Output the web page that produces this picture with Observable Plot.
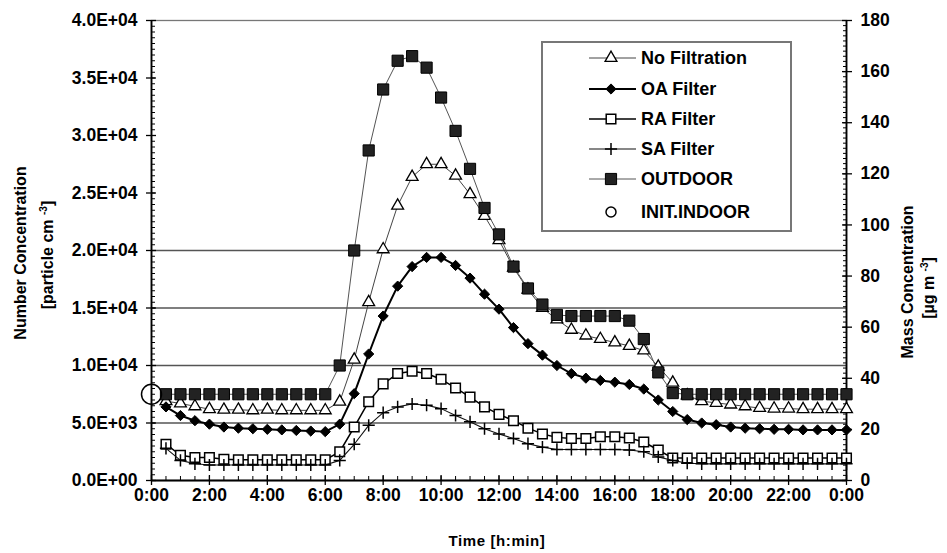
<!DOCTYPE html>
<html><head><meta charset="utf-8">
<script src="https://cdn.jsdelivr.net/npm/d3@7"></script>
<script src="https://cdn.jsdelivr.net/npm/@observablehq/plot@0.6"></script>
<style>
body{margin:0;background:#fff;}
#wrap{position:relative;width:947px;height:553px;overflow:hidden;font-family:"Liberation Sans",Arial,sans-serif;font-weight:bold;color:#000;background:#fff;}
#chart{position:absolute;left:0;top:0;}
.ttl{position:absolute;white-space:nowrap;font-size:16px;line-height:1;}
.rot{transform:translate(-50%,-50%) rotate(-90deg);}
.hor{transform:translate(-50%,-50%);}
sup{font-size:10px;vertical-align:6px;line-height:0;}
#legend{position:absolute;left:541px;top:41px;width:247px;height:187px;border:2px solid #777;background:#fff;}
</style></head><body>
<div id="wrap"><div id="chart"></div></div>
<script>
// ---------- data ----------
const hours = [0.5,1,1.5,2,2.5,3,3.5,4,4.5,5,5.5,6,6.5,7,7.5,8,8.5,9,9.5,10,10.5,11,11.5,12,
  12.5,13,13.5,14,14.5,15,15.5,16,16.5,17,17.5,18,18.5,19,19.5,20,20.5,21,21.5,22,22.5,23,23.5,24];
const noFiltration = [6900,6700,6450,6200,6150,6150,6100,6150,6100,6100,6100,6100,
  6850,10500,15500,20100,23900,26400,27500,27500,26500,24900,23000,20900,18500,16600,15000,14000,
  13100,12600,12300,12000,11700,11300,9900,8500,
  7400,6900,6750,6600,6450,6300,6250,6250,6200,6200,6200,6200];
const oaFilter = [6400,5650,5200,4900,4650,4550,4500,4450,4400,4350,4300,4250,
  4900,7550,11000,14300,16900,18600,19400,19400,18700,17600,16200,14900,13300,11900,10900,10000,
  9300,8900,8700,8550,8350,7950,7000,6000,
  5300,5000,4850,4650,4550,4500,4450,4450,4400,4400,4400,4400];
const raFilter = [3150,2200,2000,2000,1850,1800,1800,1800,1800,1800,1800,1800,
  2500,4650,6850,8400,9300,9500,9300,8800,8050,7250,6400,5750,5200,4550,4050,3750,
  3650,3650,3800,3800,3700,3350,2650,1950,
  1950,1950,1950,1950,1950,1950,1950,1950,1950,1950,1950,1950];
const saFilter = [2800,1750,1450,1350,1350,1350,1350,1350,1350,1350,1350,1350,
  1750,3150,4800,5900,6400,6650,6550,6250,5650,5100,4500,4050,3650,3200,2900,2700,
  2700,2700,2700,2700,2650,2500,2050,1750,
  1500,1450,1450,1450,1450,1450,1450,1450,1450,1450,1450,1450];
const outdoor = [7500,7500,7500,7500,7500,7500,7500,7500,7500,7500,7500,7500,
  10000,20000,28700,34000,36500,36900,35900,33300,30400,27100,23700,21400,18600,16700,15300,14400,
  14300,14300,14300,14300,13900,12300,9400,7600,
  7500,7500,7500,7500,7500,7500,7500,7500,7500,7500,7500,7500];
const initIndoorTime = [0];
const initIndoor = [7500];

const timeTickValues = [0,2,4,6,8,10,12,14,16,18,20,22,24];
const timeTickLabels = ["0:00","2:00","4:00","6:00","8:00","10:00","12:00","14:00","16:00","18:00","20:00","22:00","0:00"];
const numTickValues = [0,5000,10000,15000,20000,25000,30000,35000,40000];
const numTickLabels = ["0.0E+00","5.0E+03","1.0E+04","1.5E+04","2.0E+04","2.5E+04","3.0E+04","3.5E+04","4.0E+04"];
const massTickLabels = [0,20,40,60,80,100,120,140,160,180];
const gridValues = [5000,10000,15000,20000];

const numMax = 40000, massMax = 180;
const massToNum = v => v * numMax / massMax;

// ---------- styles ----------
const series = [
  {name:"No Filtration", values:noFiltration, line:{stroke:"#444",strokeWidth:1}, sym:{symbol:"triangle",r:4.4,fill:"#fff",stroke:"#000",strokeWidth:1.3}},
  {name:"OA Filter", values:oaFilter, line:{stroke:"#000",strokeWidth:2}, sym:{symbol:"diamond2",r:4.6,fill:"#000",stroke:"#000",strokeWidth:1}},
  {name:"RA Filter", values:raFilter, line:{stroke:"#000",strokeWidth:1.5}, sym:{symbol:"square",r:5.4,fill:"#fff",stroke:"#000",strokeWidth:1.5}},
  {name:"SA Filter", values:saFilter, line:{stroke:"#111",strokeWidth:1.1}, sym:{symbol:"plus",r:4,fill:"none",stroke:"#000",strokeWidth:1.5}},
  {name:"OUTDOOR", values:outdoor, line:{stroke:"#555",strokeWidth:1}, sym:{symbol:"square",r:6.3,fill:"#222",stroke:"#000",strokeWidth:1}}
];
const initStyle = {name:"INIT.INDOOR", sym:{symbol:"circle",r:10,fill:"none",stroke:"#000",strokeWidth:1.5}};

const rows = vals => hours.map((t,i) => ({t, v: vals[i]}));

const minorX = d3.range(0, 24.01, 0.5);
const minorY = d3.range(0, 40001, 500);
const minorMass = d3.range(0, 180.01, 2).map(massToNum);

const seriesMarks = series.flatMap(s => [
  Plot.line(rows(s.values), {x:"t", y:"v", ...s.line}),
  Plot.dot(rows(s.values), {x:"t", y:"v", ...s.sym})
]);

const plot = Plot.plot({
  width: 947, height: 553,
  marginLeft: 151, marginRight: 101, marginTop: 20, marginBottom: 73,
  x: {domain: [0, 24]},
  y: {domain: [0, numMax]},
  style: {fontFamily: '"Liberation Sans", Arial, sans-serif', fontSize: "17.5px", fontWeight: "bold", color: "#000", background: "transparent", overflow: "visible"},
  marks: [
    Plot.ruleY(gridValues, {stroke: "#555", strokeWidth: 1.3}),
    Plot.frame({stroke: "#777", strokeWidth: 1.3}),
    // x axis
    Plot.axisX({ticks: minorX, tickSize: -4, tickFormat: () => "", label: null, strokeWidth: 1}),
    Plot.axisX({ticks: timeTickValues, tickSize: -5, tickFormat: () => "", label: null, strokeWidth: 1.3}),
    Plot.axisX({ticks: timeTickValues, tickSize: 5, tickPadding: 3, strokeWidth: 1.3,
      tickFormat: d => timeTickLabels[timeTickValues.indexOf(d)], label: null}),
    // left y axis
    Plot.axisY({ticks: minorY, tickSize: -4, tickFormat: () => "", label: null}),
    Plot.axisY({ticks: numTickValues, tickSize: -5, tickFormat: () => "", label: null, strokeWidth: 1.3}),
    Plot.axisY({ticks: numTickValues, tickSize: 5, tickPadding: 9, strokeWidth: 1.3,
      tickFormat: d => numTickLabels[numTickValues.indexOf(d)], label: null}),
    // right y axis (mass concentration)
    Plot.axisY({anchor: "right", ticks: minorMass, tickSize: -4, tickFormat: () => "", label: null}),
    Plot.axisY({anchor: "right", ticks: massTickLabels.map(massToNum), tickSize: -5, tickFormat: () => "", label: null, strokeWidth: 1.3}),
    Plot.axisY({anchor: "right", ticks: massTickLabels.map(massToNum), tickSize: 5, tickPadding: 9, strokeWidth: 1.3,
      tickFormat: d => String(Math.round(d * massMax / numMax)), label: null}),
    Plot.ruleX([0, 24], {stroke: "#000", strokeWidth: 1.8}),
    Plot.ruleY([0], {stroke: "#000", strokeWidth: 1.8}),
    ...seriesMarks,
    Plot.dot(initIndoorTime.map((t,i) => ({t, v: initIndoor[i]})), {x:"t", y:"v", ...initStyle.sym})
  ]
});
document.getElementById("chart").appendChild(plot);

// ---------- titles ----------
const wrap = document.getElementById("wrap");
function addTitle(html, cx, cy, cls, extra) {
  const d = document.createElement("div");
  d.className = "ttl " + cls;
  d.style.left = cx + "px"; d.style.top = cy + "px";
  if (extra) Object.assign(d.style, extra);
  d.innerHTML = html;
  wrap.appendChild(d);
}
addTitle("Number Concentration", 21, 253, "rot");
addTitle("[particle cm <sup>-3</sup>]", 48, 255, "rot");
addTitle("Mass Concentration", 908, 282, "rot");
addTitle("[µg m <sup>-3</sup>]", 929, 288, "rot");
addTitle("Time [h:min]", 497, 540, "hor", {fontSize: "15px", letterSpacing: "0.6px"});

// ---------- legend ----------
const legend = document.createElement("div");
legend.id = "legend";
wrap.appendChild(legend);
const rowY = [15, 46, 76, 106, 136, 169];
const lsvg = d3.select(legend).append("svg").attr("width", 247).attr("height", 187)
  .style("position","absolute").style("left","0").style("top","0");
const symMap = {triangle: d3.symbolTriangle, diamond2: d3.symbolDiamond2, square: d3.symbolSquare, plus: d3.symbolPlus, circle: d3.symbolCircle};
const legendItems = [...series, {...initStyle, legendR: 5}];
legendItems.forEach((s, i) => {
  const y = rowY[i];
  const g = lsvg.append("g").attr("transform", `translate(0,${y})`);
  if (s.line) {
    g.append("line").attr("x1", 46).attr("x2", 93).attr("y1", 0).attr("y2", 0)
      .attr("stroke", s.line.stroke).attr("stroke-width", s.line.strokeWidth);
  }
  const r = s.legendR || s.sym.r;
  g.append("path").attr("transform", "translate(68,0)")
    .attr("d", d3.symbol(symMap[s.sym.symbol], Math.PI * r * r)())
    .attr("fill", s.sym.fill).attr("stroke", s.sym.stroke).attr("stroke-width", s.sym.strokeWidth);
  g.append("text").attr("x", 98).attr("y", 0).attr("dy", "0.36em")
    .attr("font-family", '"Liberation Sans", Arial, sans-serif').attr("font-weight", "bold").attr("font-size", 18)
    .text(s.name);
});
</script>
</body></html>
